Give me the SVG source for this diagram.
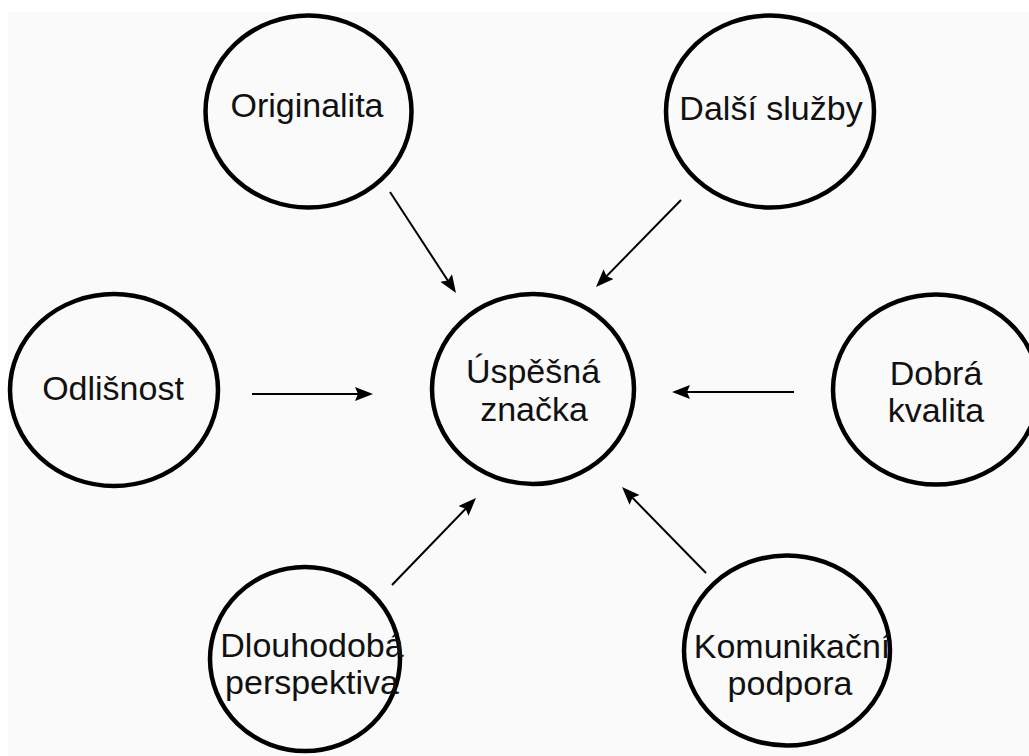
<svg xmlns="http://www.w3.org/2000/svg" width="1029" height="756" viewBox="0 0 1029 756">
  <style>
    .node ellipse { fill: none; stroke: #000; stroke-width: 4.5; }
    .node text { font-family: "Liberation Sans", Arial, sans-serif; font-size: 34px; fill: #111; text-anchor: middle; }
    .conn line { stroke: #000; stroke-width: 2; }
  </style>
  <defs>
    <marker id="arrow" markerUnits="userSpaceOnUse" markerWidth="20" markerHeight="16" refX="14" refY="7" orient="auto">
      <path d="M0,0 L18,7 L0,14 L3,7 z" fill="#000"/>
    </marker>
  </defs>
  <rect x="0" y="0" width="1029" height="756" fill="#ffffff"/>
  <rect x="8" y="12" width="1021" height="744" fill="#fafafa"/>

  <g id="connectors" class="conn">
    <line x1="390" y1="192" x2="453.8" y2="289.7" marker-end="url(#arrow)"/>
    <line x1="681" y1="200" x2="598.8" y2="284.1" marker-end="url(#arrow)"/>
    <line x1="252" y1="394" x2="369" y2="394" marker-end="url(#arrow)"/>
    <line x1="794" y1="392" x2="676" y2="392" marker-end="url(#arrow)"/>
    <line x1="392" y1="585" x2="473.2" y2="500.9" marker-end="url(#arrow)"/>
    <line x1="706" y1="573" x2="624.8" y2="489.9" marker-end="url(#arrow)"/>
  </g>

  <g id="originalita" class="node">
    <ellipse cx="308.5" cy="111.5" rx="103" ry="96"/>
    <text x="307" y="117">Originalita</text>
  </g>
  <g id="dalsi-sluzby" class="node">
    <ellipse cx="770" cy="111.5" rx="104" ry="96"/>
    <text x="771" y="120">Další služby</text>
  </g>
  <g id="odlisnost" class="node">
    <ellipse cx="114" cy="390" rx="104" ry="96"/>
    <text x="113" y="400">Odlišnost</text>
  </g>
  <g id="uspesna-znacka" class="node">
    <ellipse cx="533" cy="389" rx="101" ry="95"/>
    <text x="533" y="383">Úspěšná</text>
    <text x="534" y="421">značka</text>
  </g>
  <g id="dobra-kvalita" class="node">
    <ellipse cx="936" cy="389.5" rx="103" ry="95"/>
    <text x="936" y="385">Dobrá</text>
    <text x="936" y="422">kvalita</text>
  </g>
  <g id="dlouhodoba-perspektiva" class="node">
    <ellipse cx="305" cy="659" rx="95" ry="92"/>
    <text x="312" y="657">Dlouhodobá</text>
    <text x="312" y="694">perspektiva</text>
  </g>
  <g id="komunikacni-podpora" class="node">
    <ellipse cx="787" cy="650.5" rx="103" ry="95"/>
    <text x="792" y="658">Komunikační</text>
    <text x="790" y="695">podpora</text>
  </g>
</svg>
